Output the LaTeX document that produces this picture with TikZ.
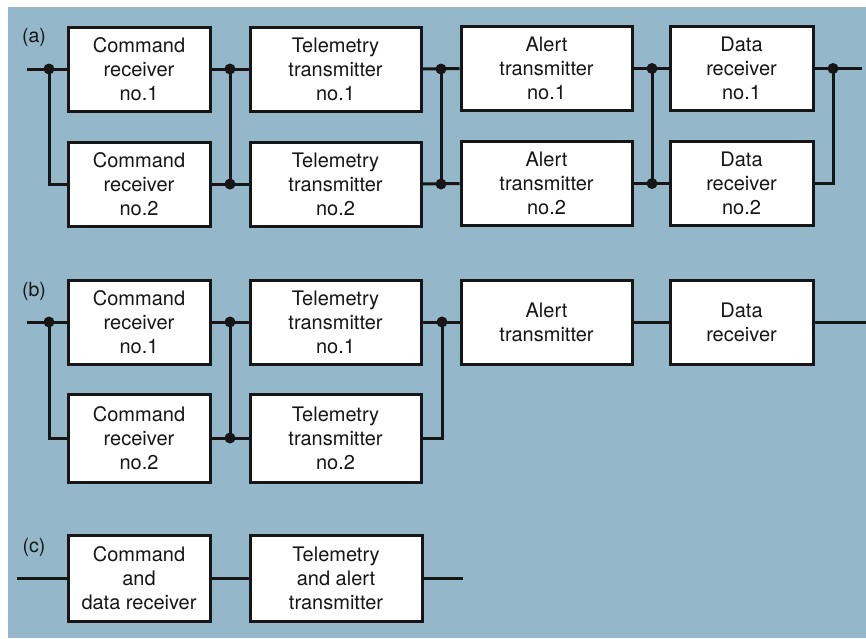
\documentclass[tikz,border=0pt]{standalone}
\usepackage{fontspec}
\setmainfont{TeX Gyre Heros}
\definecolor{bgblue}{RGB}{148,183,202}
\definecolor{ink}{RGB}{22,22,22}
\begin{document}
\begin{tikzpicture}[x=1pt,y=-1pt,
  blk/.style={draw=ink,fill=white,line width=3pt,inner sep=0pt,align=center,
    font=\fontsize{20}{24}\selectfont,text=ink},
  wire/.style={draw=ink,line width=3pt},
  jdot/.style={circle,fill=ink,inner sep=0pt,minimum size=11pt},
  lbl/.style={font=\fontsize{19.5}{22}\selectfont,text=ink}]
\useasboundingbox (0,0) rectangle (866,638);
\fill[white] (0,0) rectangle (866,638);
\fill[bgblue] (8,7) rectangle (866,638);

% ---------- (a)
\node[lbl] (la) at (34,37) {(a)};
\node[blk,minimum width=142pt,minimum height=84pt] (acr1) at (139,69) {Command\\receiver\\no.1};
\node[blk,minimum width=142pt,minimum height=84pt] (acr2) at (139,184) {Command\\receiver\\no.2};
\node[blk,minimum width=171pt,minimum height=84pt] (att1) at (335.5,69) {Telemetry\\transmitter\\no.1};
\node[blk,minimum width=171pt,minimum height=84pt] (att2) at (335.5,184) {Telemetry\\transmitter\\no.2};
\node[blk,minimum width=171pt,minimum height=84pt] (aat1) at (546.5,68.5) {Alert\\transmitter\\no.1};
\node[blk,minimum width=171pt,minimum height=84pt] (aat2) at (546.5,183.5) {Alert\\transmitter\\no.2};
\node[blk,minimum width=143pt,minimum height=84pt] (adr1) at (741.5,68.5) {Data\\receiver\\no.1};
\node[blk,minimum width=143pt,minimum height=84pt] (adr2) at (741.5,183.5) {Data\\receiver\\no.2};

\coordinate (ain) at (27,69);
\coordinate (aout) at (862,68.5);
\node[jdot] (ja0) at (49,69) {};
\node[jdot] (ja1t) at (230,69) {};
\node[jdot] (ja1b) at (230,184) {};
\node[jdot] (ja2t) at (441,69) {};
\node[jdot] (ja2b) at (441,184) {};
\node[jdot] (ja3t) at (652,68.5) {};
\node[jdot] (ja3b) at (652,183.5) {};
\node[jdot] (ja4) at (833,68.5) {};

\draw[wire] (ain) -- (acr1.west);
\draw[wire] (ja0.center) |- (acr2.west);
\draw[wire] (acr1.east) -- (att1.west);
\draw[wire] (acr2.east) -- (att2.west);
\draw[wire] (ja1t.center) -- (ja1b.center);
\draw[wire] (att1.east) -- (aat1.west);
\draw[wire] (att2.east) -- (aat2.west);
\draw[wire] (ja2t.center) -- (ja2b.center);
\draw[wire] (aat1.east) -- (adr1.west);
\draw[wire] (aat2.east) -- (adr2.west);
\draw[wire] (ja3t.center) -- (ja3b.center);
\draw[wire] (adr1.east) -- (aout);
\draw[wire] (adr2.east) -| (ja4.center);

% ---------- (b)
\node[lbl] (lb) at (34,291) {(b)};
\node[blk,minimum width=142pt,minimum height=84pt] (bcr1) at (139,322) {Command\\receiver\\no.1};
\node[blk,minimum width=142pt,minimum height=88pt] (bcr2) at (139,438) {Command\\receiver\\no.2};
\node[blk,minimum width=171pt,minimum height=84pt] (btt1) at (335.5,322) {Telemetry\\transmitter\\no.1};
\node[blk,minimum width=171pt,minimum height=88pt] (btt2) at (335.5,438) {Telemetry\\transmitter\\no.2};
\node[blk,minimum width=171pt,minimum height=84pt] (bat) at (546.5,322) {Alert\\transmitter};
\node[blk,minimum width=143pt,minimum height=84pt] (bdr) at (741.5,322) {Data\\receiver};

\coordinate (bin) at (27,322);
\coordinate (bout) at (866,322);
\node[jdot] (jb0) at (49,322) {};
\node[jdot] (jb1t) at (230,322) {};
\node[jdot] (jb1b) at (230,438) {};
\node[jdot] (jb2) at (442,322) {};

\draw[wire] (bin) -- (bcr1.west);
\draw[wire] (jb0.center) |- (bcr2.west);
\draw[wire] (bcr1.east) -- (btt1.west);
\draw[wire] (bcr2.east) -- (btt2.west);
\draw[wire] (jb1t.center) -- (jb1b.center);
\draw[wire] (btt1.east) -- (bat.west);
\draw[wire] (btt2.east) -| (jb2.center);
\draw[wire] (bat.east) -- (bdr.west);
\draw[wire] (bdr.east) -- (bout);

% ---------- (c)
\node[lbl] (lc) at (34,547) {(c)};
\node[blk,minimum width=142pt,minimum height=86pt] (ccd) at (139,578) {Command\\and\\data receiver};
\node[blk,minimum width=172pt,minimum height=86pt] (cta) at (336,578) {Telemetry\\and alert\\transmitter};
\coordinate (cin) at (17,578);
\coordinate (cout) at (463,578);
\draw[wire] (cin) -- (ccd.west);
\draw[wire] (ccd.east) -- (cta.west);
\draw[wire] (cta.east) -- (cout);
\end{tikzpicture}
\end{document}
